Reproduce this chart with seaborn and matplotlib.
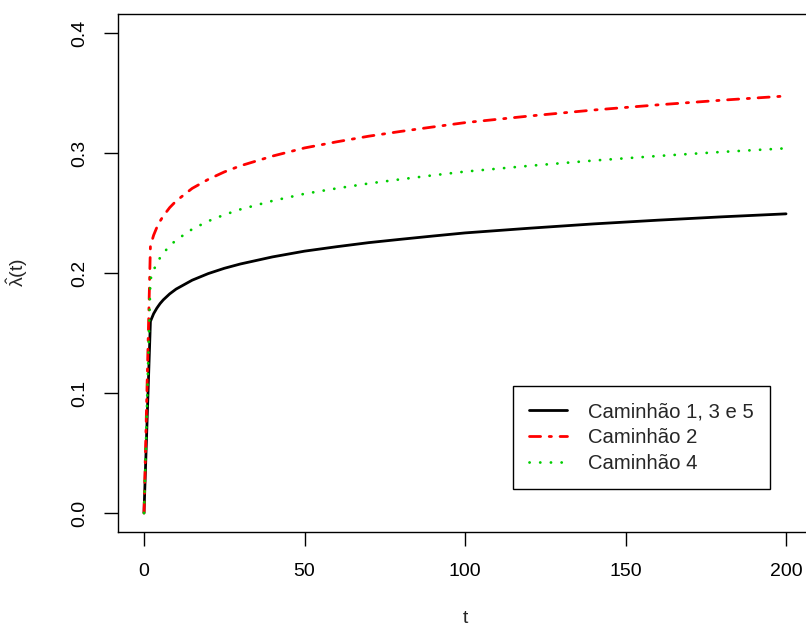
import matplotlib
matplotlib.use("Agg")
import matplotlib.pyplot as plt
import seaborn as sns
import pandas as pd

sns.set_style("ticks")
plt.rcParams["font.family"] = ["Liberation Sans", "DejaVu Sans"]
plt.rcParams["mathtext.fontset"] = "custom"
plt.rcParams["mathtext.rm"] = "Liberation Sans"
plt.rcParams["mathtext.it"] = "Liberation Sans"

# Estimated intensity curves for each truck
t = [0, 2, 3, 4, 5, 6, 8, 10, 15, 20, 25, 30, 40, 50, 60, 70, 80, 90,
     100, 120, 140, 160, 180, 200]
lam_1_3_5 = [0.0, 0.1597, 0.1661, 0.1707, 0.1745, 0.1776, 0.1826, 0.1866,
             0.1940, 0.1995, 0.2039, 0.2075, 0.2134, 0.2182, 0.2219, 0.2253,
             0.2281, 0.2308, 0.2334, 0.2373, 0.2409, 0.2440, 0.2468, 0.2493]
lam_2 = [0.0, 0.2225, 0.2315, 0.2380, 0.2432, 0.2475, 0.2545, 0.2600,
         0.2705, 0.2780, 0.2842, 0.2893, 0.2974, 0.3042, 0.3093, 0.3140,
         0.3180, 0.3217, 0.3253, 0.3308, 0.3358, 0.3401, 0.3440, 0.3475]
lam_4 = [0.0, 0.1946, 0.2024, 0.2081, 0.2127, 0.2165, 0.2226, 0.2274,
         0.2365, 0.2432, 0.2485, 0.2530, 0.2601, 0.2660, 0.2705, 0.2746,
         0.2781, 0.2814, 0.2845, 0.2893, 0.2937, 0.2975, 0.3009, 0.3039]

labels = ["Caminhão 1, 3 e 5", "Caminhão 2", "Caminhão 4"]
colors = ["black", "#FF0000", "#00CD00"]
# solid, dot-dash and dotted patterns (in units of line width, round caps)
dash_styles = [None, (4, 3.1, 0.8, 3.1), (0.05, 3.8)]

series = [lam_1_3_5, lam_2, lam_4]
df = pd.concat(
    [pd.DataFrame({"t": t, "lam": v, "grupo": lab}) for v, lab in zip(series, labels)],
    ignore_index=True,
)

fig = plt.figure(figsize=(8.06, 6.27), dpi=100)
ax = fig.add_axes([0.1468, 0.1512, 0.8603, 0.8268])

for lab, col, ds in zip(labels, colors, dash_styles):
    sub = df[df["grupo"] == lab]
    sns.lineplot(data=sub, x="t", y="lam", ax=ax, color=col, linewidth=2.0,
                 label=lab, estimator=None, sort=False)
    line = ax.lines[-1]
    if ds is not None:
        line.set_dashes(ds)
    line.set_dash_capstyle("round")
    line.set_solid_capstyle("round")

ax.set_xlim(-8, 208)
ax.set_ylim(-0.016, 0.416)
ax.set_xticks([0, 50, 100, 150, 200])
ax.set_yticks([0.0, 0.1, 0.2, 0.3, 0.4])
ax.set_yticklabels(["0.0", "0.1", "0.2", "0.3", "0.4"], rotation=90, va="center")
ax.tick_params(direction="out", length=10, width=1, labelsize=14, pad=12, colors="black")
for s in ax.spines.values():
    s.set_visible(True)
    s.set_linewidth(1)
    s.set_color("black")

ax.set_xlabel("t", fontsize=14, labelpad=22)
ax.set_ylabel(r"$\hat{\lambda}(t)$", fontsize=14, labelpad=29)

leg = ax.legend(loc="upper left", bbox_to_anchor=(0.5692, 0.2820),
                bbox_transform=ax.transAxes, fontsize=14.6, frameon=True,
                fancybox=False, edgecolor="black", framealpha=1,
                handlelength=1.88, handletextpad=1.0, borderpad=0.8,
                labelspacing=0.34, borderaxespad=0)
leg.get_frame().set_linewidth(1)

fig.savefig("out.png", dpi=100)
